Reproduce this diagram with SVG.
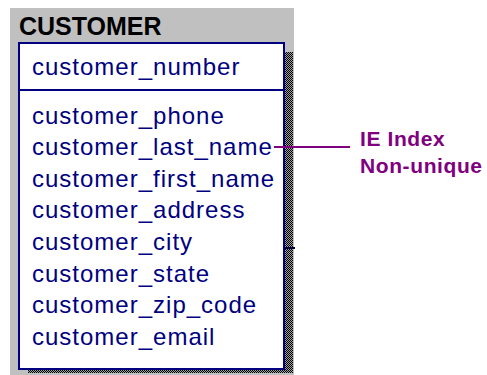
<svg xmlns="http://www.w3.org/2000/svg" width="487" height="375" viewBox="0 0 487 375">
  <defs>
    <pattern id="stip" width="2" height="2" patternUnits="userSpaceOnUse">
      <rect width="2" height="2" fill="#a0a0a0"/>
      <rect width="1" height="1" fill="#000"/>
      <rect x="1" y="1" width="1" height="1" fill="#000"/>
    </pattern>
  </defs>
  <style>
    .attr { font-family: "Liberation Sans", Arial, sans-serif; font-size: 24px; letter-spacing: 1px; fill: #000080; }
    .title { font-family: "Liberation Sans", Arial, sans-serif; font-size: 25px; font-weight: bold; fill: #000; }
    .note { font-family: "Liberation Sans", Arial, sans-serif; font-size: 21px; font-weight: bold; letter-spacing: 0.6px; fill: #800080; }
  </style>
  <rect width="487" height="375" fill="#fff"/>
  <g id="customer">
    <rect x="10" y="8" width="284" height="367" fill="#c0c0c0"/>
    <rect x="284" y="52" width="9" height="321" fill="url(#stip)"/>
    <rect x="28" y="369" width="265" height="4" fill="url(#stip)"/>
    <rect x="19" y="43" width="265" height="326" fill="#fff" stroke="#000080" stroke-width="2"/>
    <line x1="19" y1="90" x2="284" y2="90" stroke="#000080" stroke-width="2"/>
    <text class="title" x="19" y="35">CUSTOMER</text>
    <text class="attr" x="32" y="75">customer_number</text>
    <text class="attr" x="32" y="124">customer_phone</text>
    <text class="attr" x="32" y="155">customer_last_name</text>
    <text class="attr" x="32" y="187">customer_first_name</text>
    <text class="attr" x="32" y="218">customer_address</text>
    <text class="attr" x="32" y="250">customer_city</text>
    <text class="attr" x="32" y="282">customer_state</text>
    <text class="attr" x="32" y="313">customer_zip_code</text>
    <text class="attr" x="32" y="345">customer_email</text>
  </g>
  <g id="connectors">
    <line x1="274" y1="147" x2="350" y2="147" stroke="#800080" stroke-width="2"/>
    <line x1="284" y1="248" x2="295" y2="248" stroke="#000040" stroke-width="2"/>
  </g>
  <g id="ie-index-note">
    <text class="note" x="360" y="146">IE Index</text>
    <text class="note" x="360" y="173">Non-unique</text>
  </g>
</svg>
